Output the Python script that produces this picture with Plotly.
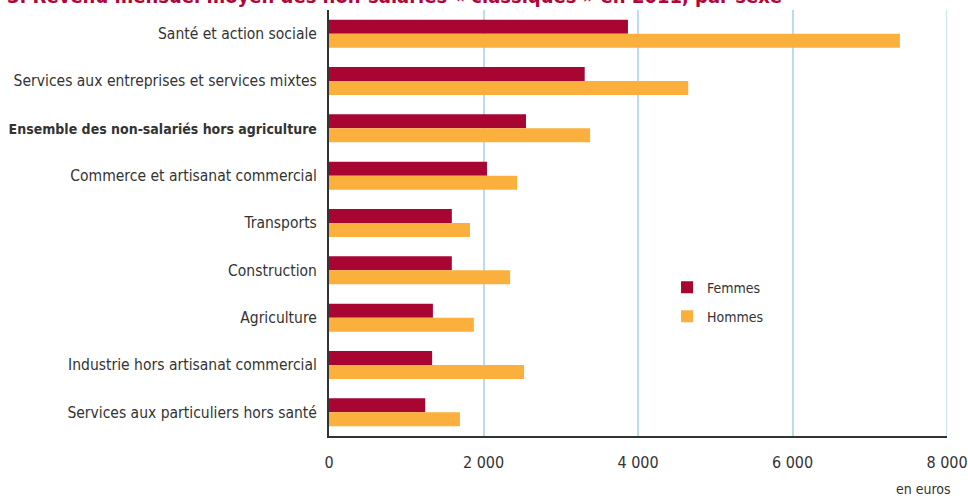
import plotly.graph_objects as go

# Secteurs, du haut vers le bas
categories = [
    "Santé et action sociale",
    "Services aux entreprises et services mixtes",
    "<span style='font-size:14px'><b>Ensemble des non-salariés hors agriculture</b></span>",
    "Commerce et artisanat commercial",
    "Transports",
    "Construction",
    "Agriculture",
    "Industrie hors artisanat commercial",
    "Services aux particuliers hors santé",
]
femmes = [3870, 3310, 2550, 2045, 1590, 1590, 1345, 1335, 1245]
hommes = [7390, 4650, 3380, 2435, 1825, 2345, 1875, 2525, 1695]

x_ticks = [0, 2000, 4000, 6000, 8000]
x_ticktext = ["0", "2 000", "4 000", "6 000", "8 000"]

FONT = "DejaVu Sans Condensed, Liberation Sans Narrow, sans-serif"
TEXT = "#333333"
GRID = "#bcdcee"

fig = go.Figure()
fig.add_trace(go.Bar(y=categories, x=femmes, name="Femmes", orientation="h",
                     marker=dict(color="#a90533", line=dict(width=0)),
                     legendgroup="f"))
fig.add_trace(go.Bar(y=categories, x=hommes, name="Hommes", orientation="h",
                     marker=dict(color="#fbaf3d", line=dict(width=0)),
                     legendgroup="h"))

# grid line at the right end of the range
fig.add_shape(type="line", xref="x", yref="paper", x0=x_ticks[-1], x1=x_ticks[-1],
              y0=0, y1=1, line=dict(color=GRID, width=1.5), layer="below")

fig.update_layout(
    width=968, height=500,
    margin=dict(l=329, r=21, t=10, b=63.5, autoexpand=False),
    paper_bgcolor="white", plot_bgcolor="white",
    barmode="group", bargap=0.41, bargroupgap=0,
    font=dict(family=FONT, size=15, color=TEXT),
    legend=dict(x=0.547, y=0.386, xanchor="left", yanchor="top",
                traceorder="grouped", tracegroupgap=8,
                font=dict(size=14, color=TEXT), bgcolor="rgba(0,0,0,0)"),
    xaxis=dict(range=[0, 8000], tickvals=x_ticks, ticktext=x_ticktext,
               showgrid=True, gridcolor=GRID, gridwidth=1.5,
               showline=True, linecolor="#333333", linewidth=2,
               zeroline=False, ticks="", ticklabelstandoff=11,
               automargin=False, tickfont=dict(size=16, color=TEXT)),
    yaxis=dict(autorange="reversed", showgrid=False,
               showline=True, linecolor="#333333", linewidth=2,
               ticks="", ticklabelstandoff=7, automargin=False,
               tickfont=dict(size=15.5, color=TEXT)),
    annotations=[
        dict(text="en euros", xref="paper", yref="paper", x=1.0097, y=-0.1,
             xanchor="right", yanchor="top", showarrow=False,
             font=dict(size=14, color=TEXT)),
        dict(text="<b>3. Revenu mensuel moyen des non-salariés « classiques » en 2011, par sexe</b>",
             xref="paper", yref="paper", x=-0.524, y=1.0,
             xanchor="left", yanchor="bottom", yshift=0, showarrow=False,
             font=dict(size=20, color="#b0063a")),
    ],
)

fig.write_html("out.html")
